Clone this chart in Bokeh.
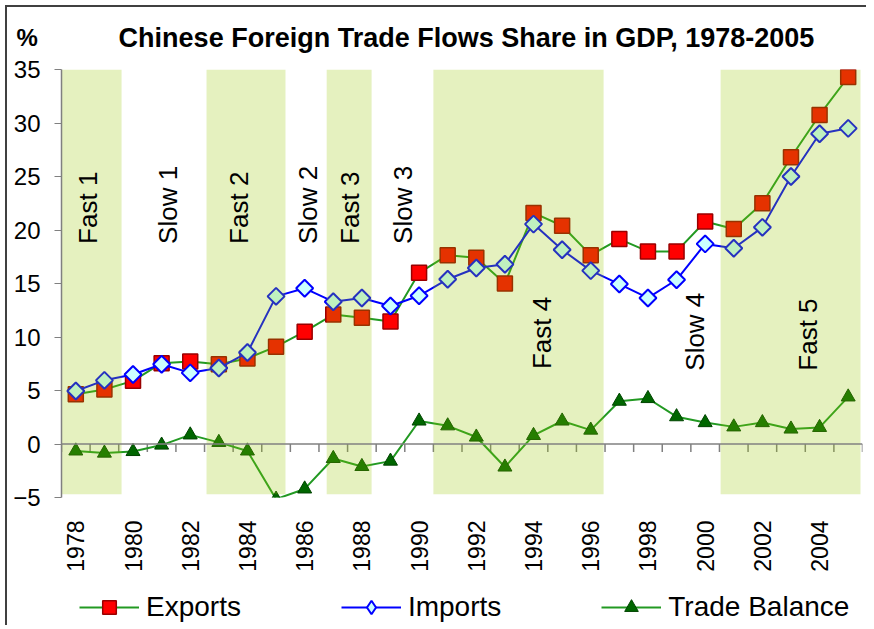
import math
from bokeh.plotting import figure
from bokeh.layouts import column, row
from bokeh.models import FixedTicker, Span, Label, Legend, LegendItem, Range1d
from bokeh.core.properties import value
from bokeh.embed import file_html
from bokeh.resources import INLINE

FONT = "Liberation Sans"

# ---------------- data ----------------
years = list(range(1978, 2006))
exports = [4.65, 5.1, 5.9, 7.55, 7.7, 7.45, 8.0, 9.1, 10.5, 12.1, 11.8, 11.45, 16.0, 17.65,
           17.4, 15.0, 21.6, 20.4, 17.65, 19.15, 18.0, 18.0, 20.8, 20.1, 22.5, 26.8, 30.75, 34.3]
imports = [4.95, 5.95, 6.5, 7.45, 6.65, 7.1, 8.55, 13.8, 14.55, 13.3, 13.65, 12.9, 13.85, 15.4,
           16.45, 16.8, 20.55, 18.15, 16.2, 14.95, 13.65, 15.35, 18.7, 18.3, 20.25, 25.0, 29.0, 29.5]
balance = [-0.65, -0.85, -0.7, -0.1, 0.85, 0.15, -0.65, -5.15, -4.2, -1.35, -2.1, -1.6, 2.15, 1.7,
           0.65, -2.15, 0.8, 2.15, 1.3, 4.0, 4.25, 2.55, 2.0, 1.6, 2.0, 1.4, 1.55, 4.4]

x_tick_years = list(range(1978, 2005, 2))
y_ticks = [-5, 0, 5, 10, 15, 20, 25, 30, 35]

# fast-growth phases (shaded bands), in years
band_start = [1977.4, 1982.57, 1986.77, 1990.5, 2000.54]
band_end = [1979.6, 1985.33, 1988.34, 1996.45, 2005.43]
band_floor = -4.7
band_top = 35

# phase labels
phase_names = ["Fast 1", "Slow 1", "Fast 2", "Slow 2", "Fast 3", "Slow 3", "Fast 4", "Slow 4", "Fast 5"]
phase_x = [1978.43, 1981.24, 1983.72, 1986.10, 1987.57, 1989.44, 1994.31, 1999.63, 2003.60]
phase_y = [18.7, 18.7, 18.7, 18.7, 18.7, 18.7, 7.0, 6.85, 6.85]

title_text = "Chinese Foreign Trade Flows Share in GDP, 1978-2005"
unit_text = "%"
series_names = ["Exports", "Imports", "Trade Balance"]

# styles
EXP_LINE = dict(line_color="#229922", line_width=2)
EXP_MARK = dict(marker="square", size=15, fill_color="#ff0000", line_color="#990000", line_width=1.5)
IMP_LINE = dict(line_color="#0000ff", line_width=2)
IMP_MARK = dict(marker="square", angle=math.pi / 4, size=12, fill_color="#ccffff",
                line_color="#0000ff", line_width=2)
IMP_KEY = dict(marker="diamond", size=12, fill_color="#ccffff", line_color="#0000ff", line_width=2)
BAL_LINE = dict(line_color="#229922", line_width=2)
BAL_MARK = dict(marker="triangle", size=14, fill_color="#006600", line_color="#004400", line_width=1)

W = 866
HEAD_H = 57
PCT_W = 100
TEXT_Y = 20  # baseline height of the header texts above the header's bottom edge


def bare(w, h, xr, yr):
    f = figure(width=w, height=h, x_range=xr, y_range=yr, output_backend="svg",
               toolbar_location=None, x_axis_location=None, y_axis_location=None,
               min_border=0)
    f.grid.visible = False
    f.outline_line_color = None
    f.background_fill_color = None
    f.border_fill_color = None
    return f


# ---------------- header (unit + title) ----------------
pct = bare(PCT_W, HEAD_H, Range1d(0, PCT_W), Range1d(0, HEAD_H))
pct.add_layout(Label(x=16, y=TEXT_Y, text=unit_text, text_font=FONT, text_font_size="24px",
                     text_font_style="bold", text_align="left", text_baseline="alphabetic",
                     text_color="black"))
ttl = bare(W - PCT_W, HEAD_H, Range1d(PCT_W, W), Range1d(0, HEAD_H))
ttl.add_layout(Label(x=466, y=TEXT_Y, text=title_text, text_font=FONT, text_font_size="27px",
                     text_font_style="bold", text_align="center", text_baseline="alphabetic",
                     text_color="black"))
header = row(pct, ttl, spacing=0)

# ---------------- main chart ----------------
p = figure(width=W, height=523, x_range=(1977.5, 2005.5), y_range=(-5, 35),
           output_backend="svg", toolbar_location=None,
           min_border_left=61, min_border_right=4, min_border_top=12, min_border_bottom=83)
p.outline_line_color = None
p.border_fill_color = None
p.xgrid.visible = False
p.ygrid.visible = False

p.yaxis.ticker = FixedTicker(ticks=y_ticks)
p.yaxis.axis_line_color = "#808080"
p.yaxis.axis_line_width = 1.5
p.yaxis.major_tick_line_color = "#808080"
p.yaxis.major_tick_out = 7
p.yaxis.major_tick_in = 0
p.yaxis.minor_tick_line_color = None
p.yaxis.major_label_text_font = FONT
p.yaxis.major_label_text_font_size = "24px"
p.yaxis.major_label_text_color = "black"
p.yaxis.major_label_standoff = 14

p.xaxis.ticker = FixedTicker(ticks=x_tick_years)
p.xaxis.axis_line_color = None
p.xaxis.major_tick_line_color = None
p.xaxis.minor_tick_line_color = None
p.xaxis.major_label_orientation = math.pi / 2
p.xaxis.major_label_text_font = FONT
p.xaxis.major_label_text_font_size = "23px"
p.xaxis.major_label_text_color = "black"
p.xaxis.major_label_standoff = 17

# zero line with category tick marks
p.add_layout(Span(location=0, dimension="width", line_color="#808080", line_width=1.5))
bounds = [y - 0.5 for y in years] + [years[-1] + 0.5]
p.segment(x0=bounds, y0=[0] * len(bounds), x1=bounds, y1=[-0.75] * len(bounds),
          line_color="#808080", line_width=1.5)

p.line(years, exports, **EXP_LINE)
p.scatter(years, exports, **EXP_MARK)
p.line(years, imports, **IMP_LINE)
p.scatter(years, imports, **IMP_MARK)
p.line(years, balance, **BAL_LINE)
p.scatter(years, balance, **BAL_MARK)

# shaded phases (on top, translucent)
p.quad(left=band_start, right=band_end, bottom=[band_floor] * len(band_start),
       top=[band_top] * len(band_start), fill_color=(150, 200, 0), fill_alpha=0.25,
       line_color=None)

p.text(x=phase_x, y=phase_y, text=phase_names, angle=math.pi / 2,
       text_font=value(FONT), text_font_size="26px", text_align="left",
       text_baseline="middle", text_color="black")

# ---------------- footer (legend) ----------------
foot = bare(W, 45, Range1d(0, 1), Range1d(0, 1))
fx, fy = [-5], [-5]  # off-canvas stand-ins: only their legend glyphs are shown
r1 = [foot.line(fx, fy, **EXP_LINE), foot.scatter(fx, fy, **EXP_MARK)]
r2 = [foot.line(fx, fy, **IMP_LINE), foot.scatter(fx, fy, **IMP_KEY)]
r3 = [foot.line(fx, fy, **BAL_LINE), foot.scatter(fx, fy, **BAL_MARK)]
legend = Legend(items=[LegendItem(label=series_names[0], renderers=r1),
                       LegendItem(label=series_names[1], renderers=r2),
                       LegendItem(label=series_names[2], renderers=r3)],
                orientation="horizontal", location=(18, 1), glyph_width=60,
                glyph_height=34, label_height=34, label_standoff=7, spacing=100,
                padding=0, margin=0, border_line_color=None, background_fill_alpha=0,
                label_text_font=FONT, label_text_font_size="28px", label_text_color="black")
foot.add_layout(legend)

layout = column(header, p, foot, spacing=0)
layout.styles = {"box-shadow": "inset 5px 5px 0 0 #ffffff, inset 7px 7px 0 0 #404040"}

open("out.html", "w").write(file_html(layout, INLINE))
